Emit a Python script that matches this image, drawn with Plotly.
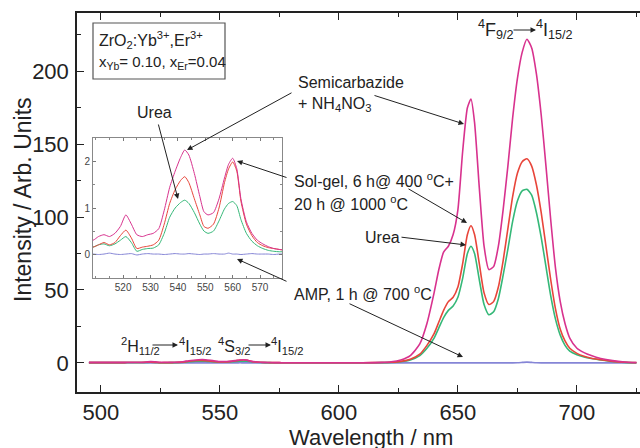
import plotly.graph_objects as go

# ---------------- data ----------------
wavelength = [495, 500, 505, 509, 511, 513, 515, 517, 519, 521, 523, 525, 527, 529, 531, 533, 535, 537, 539, 541,
              542.5, 544, 546, 548, 549.5, 551, 553, 555, 557, 558.5, 560, 561.5, 563, 565, 567, 569, 571, 573, 575, 577,
              580, 590, 600, 610, 618, 622, 626, 630, 634, 637, 640, 642, 644, 646, 648, 650, 652, 654, 655.5, 657,
              659, 661, 663, 665, 667, 669, 671, 673, 675, 677, 679, 681, 683, 685, 687, 689, 691, 693, 695, 697,
              700, 703, 706, 710, 715, 720, 725]

semicarbazide = [0.3, 0.3, 0.32, 0.3, 0.38, 0.42, 0.38, 0.45, 0.6, 0.85, 0.65, 0.42, 0.38, 0.42, 0.45, 0.55, 0.95, 1.45, 1.8, 2.1,
                 2.26, 2.15, 1.75, 1.25, 0.92, 0.85, 0.9, 1.2, 1.65, 1.95, 2.08, 1.85, 1.2, 0.7, 0.45, 0.3, 0.22, 0.16, 0.12, 0.1,
                 0.08, 0.05, 0.05, 0.1, 0.3, 0.7, 2, 5, 13, 27, 48, 64, 76, 80, 88, 105, 145, 175, 181, 165,
                 120, 80, 64, 66, 80, 105, 135, 168, 195, 213, 222, 216, 198, 170, 135, 98, 65, 42, 27, 17,
                 10, 7, 5, 3, 1.5, 0.6, 0.2]

solgel = [0.15, 0.15, 0.15, 0.15, 0.2, 0.25, 0.2, 0.25, 0.4, 0.52, 0.35, 0.12, 0.15, 0.17, 0.2, 0.3, 0.65, 1.1, 1.4, 1.6,
          1.68, 1.55, 1.2, 0.85, 0.6, 0.56, 0.65, 1.0, 1.55, 1.85, 2.0, 1.8, 1.15, 0.65, 0.4, 0.25, 0.18, 0.14, 0.12, 0.1,
          0.08, 0.05, 0.05, 0.08, 0.2, 0.4, 1, 2.5, 6, 12, 20, 28, 36, 42, 45, 52, 68, 88, 94, 88,
          68, 48, 40, 42, 52, 70, 92, 114, 130, 138, 140, 135, 122, 103, 80, 57, 37, 23, 15, 10,
          6.5, 4.5, 3.2, 2.2, 1, 0.4, 0.15]

urea = [0.15, 0.15, 0.15, 0.15, 0.2, 0.22, 0.18, 0.22, 0.3, 0.38, 0.25, 0.06, 0.1, 0.12, 0.13, 0.2, 0.45, 0.8, 1.0, 1.12,
        1.17, 1.1, 0.9, 0.65, 0.5, 0.45, 0.5, 0.72, 0.98, 1.1, 1.14, 1.05, 0.75, 0.45, 0.28, 0.18, 0.12, 0.08, 0.06, 0.05,
        0.05, 0.04, 0.04, 0.06, 0.15, 0.3, 0.8, 2, 5, 10, 17, 24, 31, 36, 39, 45, 58, 75, 80, 75,
        57, 40, 33, 35, 44, 60, 78, 97, 111, 118, 119, 115, 103, 86, 66, 46, 30, 19, 12, 8,
        5.5, 4, 3, 2, 0.9, 0.3, 0.1]

amp = [0.0, 0.0, 0.01, 0.0, -0.01, 0.0, 0.02, 0.0, -0.01, 0.0, 0.01, -0.02, 0.0, 0.01, 0.0, 0.0, -0.01, 0.0, 0.01, 0.0,
       0.0, 0.01, 0.0, -0.01, 0.0, 0.0, 0.01, 0.0, 0.0, 0.02, 0.0, 0.0, -0.01, 0.0, 0.01, 0.0, 0.0, 0.0, -0.01, 0.0,
       0.0, 0.0, 0.0, 0.0, 0.0, 0.0, 0.0, 0.0, 0.0, 0.0, 0.0, 0.0, 0.0, 0.0, 0.0, 0.0, 0.0, 0.0, 0.0, 0.0,
       0.0, 0.0, 0.0, 0.0, 0.0, 0.0, 0.0, 0.0, 0.1, 0.3, 0.5, 0.3, 0.1, 0.0, 0.0, 0.0, 0.0, 0.0, 0.0, 0.0,
       0.0, 0.0, 0.0, 0.0, 0.0, 0.0, 0.0]

series = [
    ("AMP, 1 h @ 700 °C", amp, "#8585d6"),
    ("Urea", urea, "#35b878"),
    ("Sol-gel", solgel, "#e8453a"),
    ("Semicarbazide + NH4NO3", semicarbazide, "#d8328e"),
]

x_ticks = [500, 550, 600, 650, 700]
y_ticks = [0, 50, 100, 150, 200]
inset_x_ticks = [520, 530, 540, 550, 560, 570]
inset_y_ticks = [0, 1, 2]

# ---------------- layout helpers ----------------
W, H = 640, 448
L, R, T, B = 77, 640, 13, 392
FONT = "Liberation Sans, Arial, sans-serif"


def P(px, py):
    return (px - L) / (R - L), (B - py) / (B - T)


fig = go.Figure()
for name, vals, col in series:
    fig.add_trace(go.Scatter(x=wavelength, y=vals, mode="lines", name=name,
                             line=dict(color=col, width=1.6, shape="spline", smoothing=0.6),
                             xaxis="x", yaxis="y"))
for name, vals, col in series:
    fig.add_trace(go.Scatter(x=wavelength, y=vals, mode="lines", name=name,
                             line=dict(color=col, width=1, shape="spline", smoothing=0.6),
                             xaxis="x2", yaxis="y2"))

ix0, iy0 = P(93, 278)
ix1, iy1 = P(282, 138)

fig.update_layout(
    width=W, height=H,
    margin=dict(l=L, r=W - R, t=T, b=H - B),
    paper_bgcolor="white", plot_bgcolor="white",
    showlegend=False,
    font=dict(family=FONT, color="#222"),
    xaxis=dict(range=[490, 726.5], tickvals=x_ticks, ticks="inside", ticklen=7, tickwidth=1.2,
               tickcolor="#222", showline=True, linecolor="#222", linewidth=1.5, mirror="ticks",
               showgrid=False, zeroline=False, tickfont=dict(size=22, family=FONT, color="#222"),
               minor=dict(dtick=25, tick0=500, ticks="inside", ticklen=4, tickcolor="#222"),
               domain=[0, 1]),
    yaxis=dict(range=[-20, 240], tickvals=y_ticks, ticks="inside", ticklen=7, tickwidth=1.2,
               tickcolor="#222", showline=True, linecolor="#222", linewidth=1.5, mirror=False,
               showgrid=False, zeroline=False, tickfont=dict(size=22, family=FONT, color="#222"),
               minor=dict(dtick=25, tick0=0, ticks="inside", ticklen=4, tickcolor="#222"),
               domain=[0, 1], ticklabelstandoff=2),
    xaxis2=dict(domain=[ix0, ix1], anchor="y2", range=[509, 578], tickvals=inset_x_ticks,
                ticks="inside", ticklen=3, tickcolor="#777", showline=True, linecolor="#888",
                linewidth=1, mirror="ticks", showgrid=False, zeroline=False,
                tickfont=dict(size=10, family=FONT, color="#444"),
                minor=dict(dtick=5, tick0=510, ticks="inside", ticklen=2, tickcolor="#888")),
    yaxis2=dict(domain=[iy0, iy1], anchor="x2", range=[-0.52, 2.52], tickvals=inset_y_ticks,
                ticks="inside", ticklen=3, tickcolor="#777", showline=True, linecolor="#888",
                linewidth=1, mirror="ticks", showgrid=False, zeroline=False,
                tickfont=dict(size=10, family=FONT, color="#444"),
                minor=dict(dtick=0.5, tick0=0, ticks="inside", ticklen=2, tickcolor="#888")),
)

# inset background
bx0, by0 = P(93, 278)
bx1, by1 = P(282, 138)
fig.add_shape(type="rect", xref="paper", yref="paper", x0=bx0, y0=by0, x1=bx1, y1=by1,
              fillcolor="white", line=dict(width=0), layer="below")

# legend box top-left
lx0, ly0 = P(93, 79)
lx1, ly1 = P(225, 23)
fig.add_shape(type="rect", xref="paper", yref="paper", x0=lx0, y0=ly0, x1=lx1, y1=ly1,
              line=dict(color="#555", width=1.2), fillcolor="rgba(0,0,0,0)")

annotations = []


def text(px, py, s, size=16, anchor="left", yanchor="middle", angle=0):
    x, y = P(px, py)
    annotations.append(dict(x=x, y=y, xref="paper", yref="paper", text=s, showarrow=False,
                            xanchor=anchor, yanchor=yanchor, textangle=angle,
                            font=dict(size=size, family=FONT, color="#222")))


def arrow(tx, ty, hx, hy, head=True):
    x, y = P(hx, hy)
    annotations.append(dict(x=x, y=y, xref="paper", yref="paper", text="", showarrow=True,
                            ax=tx - hx, ay=ty - hy, axref="pixel", ayref="pixel",
                            arrowhead=2 if head else 0, arrowsize=1.1, arrowwidth=1,
                            arrowcolor="#222"))


# axis titles
text(23, 200, "Intensity / Arb. Units", size=23, anchor="center", angle=-90)
text(371, 437, "Wavelength / nm", size=22, anchor="center")

# composition box
text(97, 40, "ZrO<sub>2</sub>:Yb<sup>3+</sup>,Er<sup>3+</sup>", size=16)
text(97, 63, "x<sub>Yb</sub>= 0.10, x<sub>Er</sub>=0.04", size=15)

# transitions (top)
text(476, 30, "<sup>4</sup>F<sub>9/2</sub>", size=18)
arrow(512, 30, 536, 30)
text(534, 30, "<sup>4</sup>I<sub>15/2</sub>", size=18)

# transitions (bottom)
text(119, 346, "<sup>2</sup>H<sub>11/2</sub>", size=16)
arrow(151, 345, 178, 345)
text(177, 346, "<sup>4</sup>I<sub>15/2</sub>", size=16)
text(216, 346, "<sup>4</sup>S<sub>3/2</sub>", size=16)
arrow(247, 345, 271, 345)
text(269, 346, "<sup>4</sup>I<sub>15/2</sub>", size=16)

# sample labels
text(296, 82, "Semicarbazide", size=16)
text(296, 105, "+ NH<sub>4</sub>NO<sub>3</sub>", size=16)
arrow(293, 92, 187, 150)
arrow(373, 95, 464, 124)

text(135, 113, "Urea", size=16)
arrow(158, 123, 178, 199)

text(292, 180, "Sol-gel, 6 h@ 400 <sup>o</sup>C+", size=16)
text(292, 203, "20 h @ 1000 <sup>o</sup>C", size=16)
arrow(288, 178, 237, 161)
arrow(407, 188, 467, 223)

text(363, 237, "Urea", size=16)
arrow(400, 237, 466, 245)

text(292, 293, "AMP, 1 h @ 700 <sup>o</sup>C", size=16)
arrow(288, 282, 237, 259)
arrow(348, 303, 463, 357)

fig.update_layout(annotations=annotations)

fig.write_html("out.html", config={"displayModeBar": False},
               post_script="document.body.style.margin='0px';document.body.style.overflow='hidden';")
